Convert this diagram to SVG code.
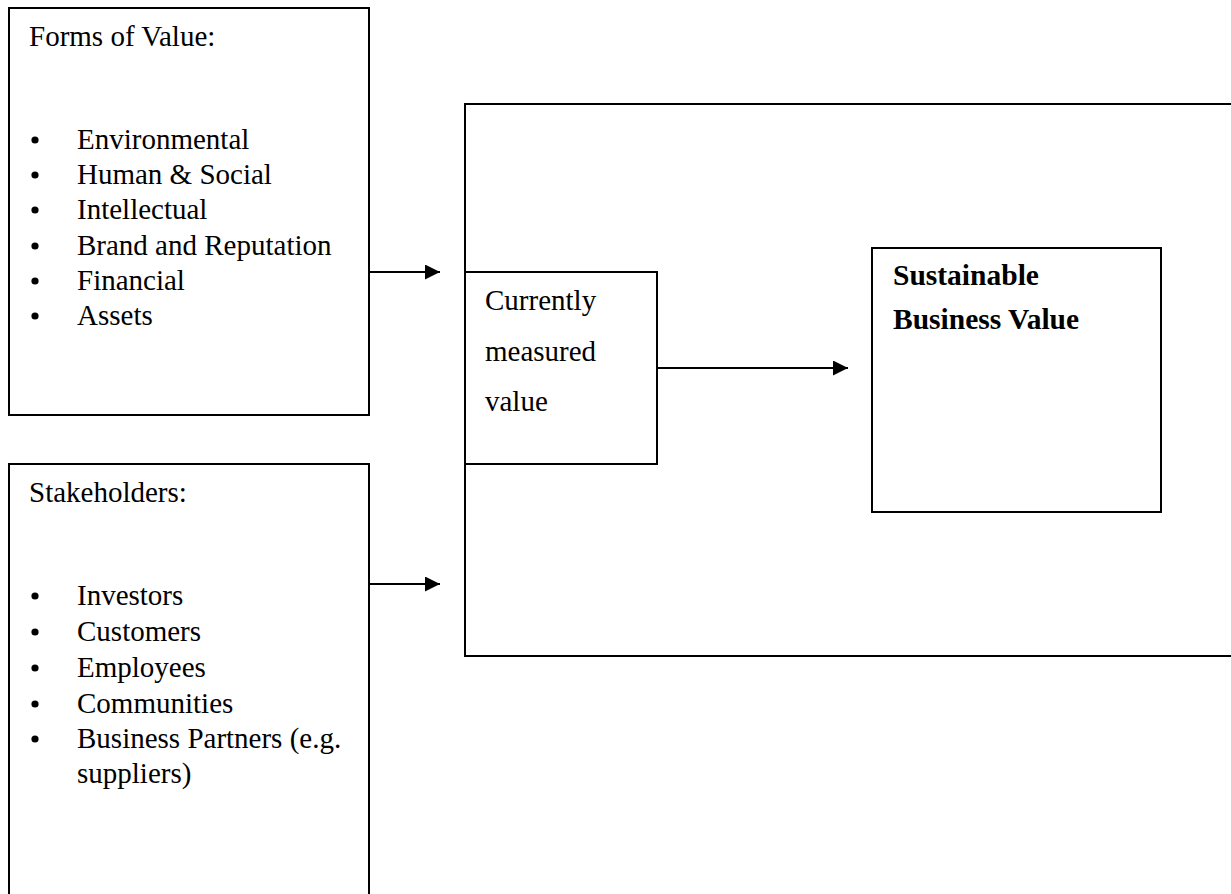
<svg xmlns="http://www.w3.org/2000/svg" width="1231" height="894" viewBox="0 0 1231 894">
  <style>
    .box { fill: none; stroke: #000; stroke-width: 2; }
    .txt { font-family: "Liberation Serif", "Times New Roman", serif; font-size: 29px; fill: #000; }
    .bold { font-weight: bold; font-size: 29.5px; }
    .dot { fill: #000; }
    .conn { stroke: #000; stroke-width: 2; fill: none; marker-end: url(#arrow); }
  </style>
  <defs>
    <marker id="arrow" markerWidth="15" markerHeight="15" refX="15" refY="7.5" orient="auto" markerUnits="userSpaceOnUse">
      <path d="M0,0 L15,7.5 L0,15 Z" fill="#000"/>
    </marker>
  </defs>
  <rect width="1231" height="894" fill="#fff"/>

  <!-- forms of value -->
  <g id="forms-of-value">
    <rect class="box" x="9" y="8" width="360" height="407"/>
    <text class="txt" x="29" y="46">Forms of Value:</text>
    <circle class="dot" cx="35" cy="140" r="3.6"/>
    <text class="txt" x="77" y="149">Environmental</text>
    <circle class="dot" cx="35" cy="175" r="3.6"/>
    <text class="txt" x="77" y="184">Human &amp; Social</text>
    <circle class="dot" cx="35" cy="210" r="3.6"/>
    <text class="txt" x="77" y="219">Intellectual</text>
    <circle class="dot" cx="35" cy="246" r="3.6"/>
    <text class="txt" x="77" y="255">Brand and Reputation</text>
    <circle class="dot" cx="35" cy="281" r="3.6"/>
    <text class="txt" x="77" y="290">Financial</text>
    <circle class="dot" cx="35" cy="316" r="3.6"/>
    <text class="txt" x="77" y="325">Assets</text>
  </g>

  <!-- stakeholders -->
  <g id="stakeholders">
    <rect class="box" x="9" y="464" width="360" height="450"/>
    <text class="txt" x="29" y="502">Stakeholders:</text>
    <circle class="dot" cx="35" cy="596" r="3.6"/>
    <text class="txt" x="77" y="605">Investors</text>
    <circle class="dot" cx="35" cy="632" r="3.6"/>
    <text class="txt" x="77" y="641">Customers</text>
    <circle class="dot" cx="35" cy="668" r="3.6"/>
    <text class="txt" x="77" y="677">Employees</text>
    <circle class="dot" cx="35" cy="704" r="3.6"/>
    <text class="txt" x="77" y="713">Communities</text>
    <circle class="dot" cx="35" cy="739" r="3.6"/>
    <text class="txt" x="77" y="748">Business Partners (e.g.</text>
    <text class="txt" x="77" y="783">suppliers)</text>
  </g>

  <!-- enclosing value frame -->
  <g id="value-frame">
    <rect class="box" x="465" y="104" width="790" height="552"/>
  </g>

  <!-- currently measured value -->
  <g id="measured-value">
    <rect class="box" x="465" y="272" width="192" height="192"/>
    <text class="txt" x="485" y="310">Currently</text>
    <text class="txt" x="485" y="361">measured</text>
    <text class="txt" x="485" y="411">value</text>
  </g>

  <!-- sustainable business value -->
  <g id="sustainable-value">
    <rect class="box" x="872" y="248" width="289" height="264"/>
    <text class="txt bold" x="893" y="285">Sustainable</text>
    <text class="txt bold" x="893" y="329">Business Value</text>
  </g>

  <!-- connectors -->
  <g id="connectors">
    <line class="conn" x1="369" y1="272" x2="440" y2="272"/>
    <line class="conn" x1="369" y1="584" x2="440" y2="584"/>
    <line class="conn" x1="657" y1="368" x2="848" y2="368"/>
  </g>
</svg>
